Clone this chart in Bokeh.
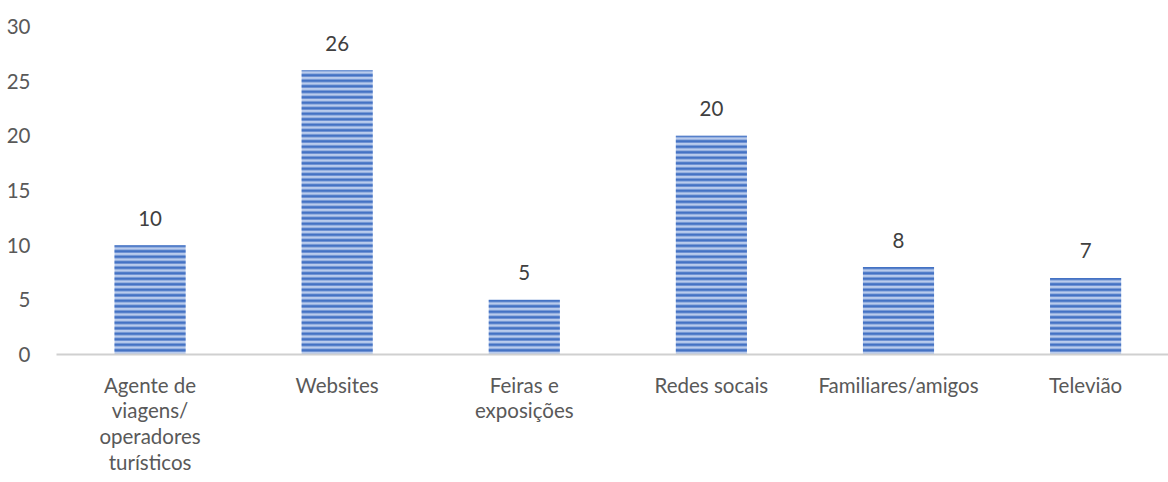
from bokeh.plotting import figure
from bokeh.models import Range1d, FixedTicker, ColumnDataSource
from bokeh.core.properties import value
from bokeh.embed import file_html
from bokeh.resources import INLINE

categories = ["Agente de\nviagens/\noperadores\nturísticos", "Websites", "Feiras e\nexposições",
              "Redes socais", "Familiares/amigos", "Televião"]
values = [10, 26, 5, 20, 8, 7]
y_ticks = [0, 5, 10, 15, 20, 25, 30]

FONT = "Lato"
FS = "20.5px"

idx = list(range(len(categories)))

p = figure(width=1168, height=482, output_backend="svg", toolbar_location=None,
           x_range=Range1d(-0.5, 5.443), y_range=Range1d(0, 30),
           min_border_left=56, min_border_right=0, min_border_top=26, min_border_bottom=128)
p.outline_line_color = None
p.grid.grid_line_color = None

src = ColumnDataSource(dict(x=idx, val=values, lab=[str(v) for v in values]))
p.vbar(x="x", top="val", width=0.38, source=src, fill_color="#b9cbec", line_color=None,
       hatch_pattern="horizontal_line", hatch_color="#4472c4", hatch_scale=5.5, hatch_weight=2.8)
p.text(x="x", y="val", text="lab", source=src, text_align="center", text_baseline="alphabetic",
       y_offset=-27, text_font=value(FONT), text_font_size=FS, text_color="#404040")

xa = p.xaxis[0]
xa.ticker = FixedTicker(ticks=idx)
xa.major_label_overrides = {i: c for i, c in zip(idx, categories)}
xa.axis_line_color = "#d0d0d0"
xa.axis_line_width = 2
xa.major_tick_line_color = None
xa.minor_tick_line_color = None
xa.major_label_text_font = FONT
xa.major_label_text_font_size = FS
xa.major_label_text_color = "#595959"
xa.major_label_text_line_height = 1.073
xa.major_label_standoff = 12

ya = p.yaxis[0]
ya.ticker = FixedTicker(ticks=y_ticks)
ya.axis_line_color = None
ya.major_tick_line_color = None
ya.minor_tick_line_color = None
ya.major_label_text_font = FONT
ya.major_label_text_font_size = FS
ya.major_label_text_color = "#595959"
ya.major_label_standoff = 20

open("out.html", "w").write(file_html(p, INLINE))
